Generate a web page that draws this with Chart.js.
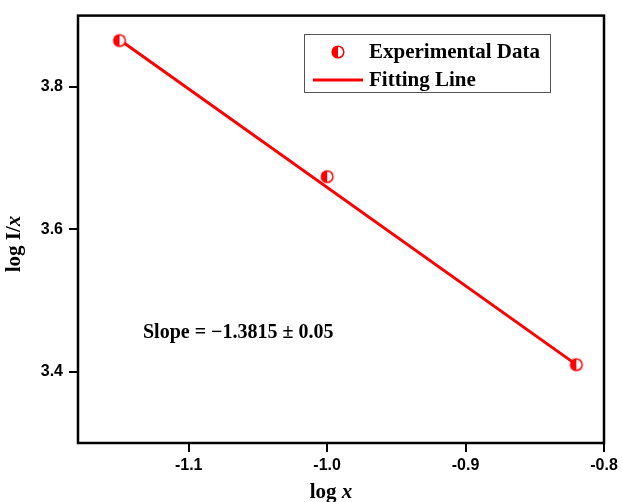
<!DOCTYPE html>
<html>
<head>
<meta charset="utf-8">
<script src="https://cdn.jsdelivr.net/npm/chart.js@4/dist/chart.umd.min.js"></script>
<style>
  html, body { margin: 0; padding: 0; background: #fff; }
  canvas { display: block; }
</style>
</head>
<body>
<canvas id="fitChart" width="622" height="502"></canvas>
<script>
// data
const logX = [-1.15, -1.0, -0.82];
const logIx = [3.865, 3.674, 3.41];
const fitX = [-1.15, -0.82];
const fitY = [3.866, 3.41];
const xTicks = [-1.1, -1.0, -0.9, -0.8];
const yTicks = [3.4, 3.6, 3.8];
const slopeText = 'Slope = \u22121.3815 \u00b1 0.05';

const RED = '#ff0000';
const SERIF = '"Liberation Serif", "Times New Roman", serif';
const SANS = '"Liberation Sans", Arial, sans-serif';

// half filled circle marker
const makeMarker = (r) => {
    const c = document.createElement('canvas');
    const s = Math.ceil(r * 2 + 4);
    c.width = s; c.height = s;
    const g = c.getContext('2d');
    const m = s / 2;
    g.beginPath(); g.arc(m, m, r, 0, Math.PI * 2);
    g.fillStyle = '#fff'; g.fill();
    g.beginPath(); g.moveTo(m, m); g.arc(m, m, r, Math.PI / 2, Math.PI * 1.5);
    g.closePath(); g.fillStyle = RED; g.fill();
    g.beginPath(); g.arc(m, m, r, 0, Math.PI * 2);
    g.lineWidth = 1.5; g.strokeStyle = RED; g.stroke();
    return c;
};
const marker = makeMarker(5.8);

const decorations = {
    id: 'decorations',
    afterDraw(chart) {
        const { ctx, chartArea: a } = chart;
        ctx.save();
        // frame
        ctx.strokeStyle = '#000';
        ctx.lineWidth = 2.5;
        ctx.strokeRect(a.left, a.top, a.right - a.left, a.bottom - a.top);

        // legend box
        ctx.lineWidth = 1;
        ctx.strokeStyle = '#555';
        ctx.strokeRect(304.5, 34.5, 246, 58);
        ctx.drawImage(marker, 338 - marker.width / 2, 52 - marker.height / 2);
        ctx.strokeStyle = RED;
        ctx.lineWidth = 3;
        ctx.beginPath(); ctx.moveTo(313, 80); ctx.lineTo(363, 80); ctx.stroke();
        ctx.fillStyle = '#000';
        ctx.font = 'bold 21px ' + SERIF;
        ctx.textAlign = 'left';
        ctx.textBaseline = 'middle';
        ctx.fillText('Experimental Data', 369, 53);
        ctx.fillText('Fitting Line', 369, 81);

        // slope annotation
        ctx.font = 'bold 20px ' + SERIF;
        ctx.fillText(slopeText, 143, 333);

        // axis titles (x in italics)
        const drawTitle = (cx, cy, rot) => {
            ctx.save();
            ctx.translate(cx, cy);
            ctx.rotate(rot);
            ctx.textBaseline = 'alphabetic';
            ctx.font = 'bold 21px ' + SERIF;
            const a1 = rot ? 'log I/' : 'log ';
            const w1 = ctx.measureText(a1).width;
            ctx.font = 'italic bold 21px ' + SERIF;
            const w2 = ctx.measureText('x').width;
            const x0 = -(w1 + w2) / 2;
            ctx.font = 'bold 21px ' + SERIF;
            ctx.fillText(a1, x0, 0);
            ctx.font = 'italic bold 21px ' + SERIF;
            ctx.fillText('x', x0 + w1, 0);
            ctx.restore();
        };
        drawTitle(331, 498, 0);
        drawTitle(20, 244, -Math.PI / 2);
        ctx.restore();
    }
};

const tickGrid = { display: true, drawOnChartArea: false, drawTicks: true, tickLength: 9, lineWidth: 2, color: '#000' };

new Chart(document.getElementById('fitChart'), {
    type: 'scatter',
    data: {
        datasets: [{
            label: 'Experimental Data',
            data: logX.map((x, i) => ({ x, y: logIx[i] })),
            pointStyle: marker,
            order: 0
        }, {
            label: 'Fitting Line',
            data: fitX.map((x, i) => ({ x, y: fitY[i] })),
            showLine: true,
            borderColor: RED,
            borderWidth: 3,
            pointRadius: 0,
            order: 1
        }]
    },
    options: {
        responsive: false,
        animation: false,
        layout: { padding: { top: 14, right: 18, left: 0, bottom: 0 } },
        plugins: { legend: { display: false }, tooltip: { enabled: false } },
        scales: {
            x: {
                type: 'linear',
                min: -1.18, max: -0.8,
                afterBuildTicks: (s) => { s.ticks = xTicks.map(v => ({ value: v })); },
                afterFit: (s) => { s.height = 59; },
                border: { display: false },
                grid: tickGrid,
                ticks: {
                    color: '#000', padding: 4,
                    font: { family: SANS, size: 16, weight: 'bold' },
                    callback: (v) => v.toFixed(1)
                }
            },
            y: {
                type: 'linear',
                min: 3.3, max: 3.9,
                afterBuildTicks: (s) => { s.ticks = yTicks.map(v => ({ value: v })); },
                afterFit: (s) => { s.width = 78; },
                border: { display: false },
                grid: tickGrid,
                ticks: {
                    color: '#000', padding: 6,
                    font: { family: SANS, size: 16, weight: 'bold' },
                    callback: (v) => v.toFixed(1)
                }
            }
        }
    },
    plugins: [decorations]
});
</script>
</body>
</html>
